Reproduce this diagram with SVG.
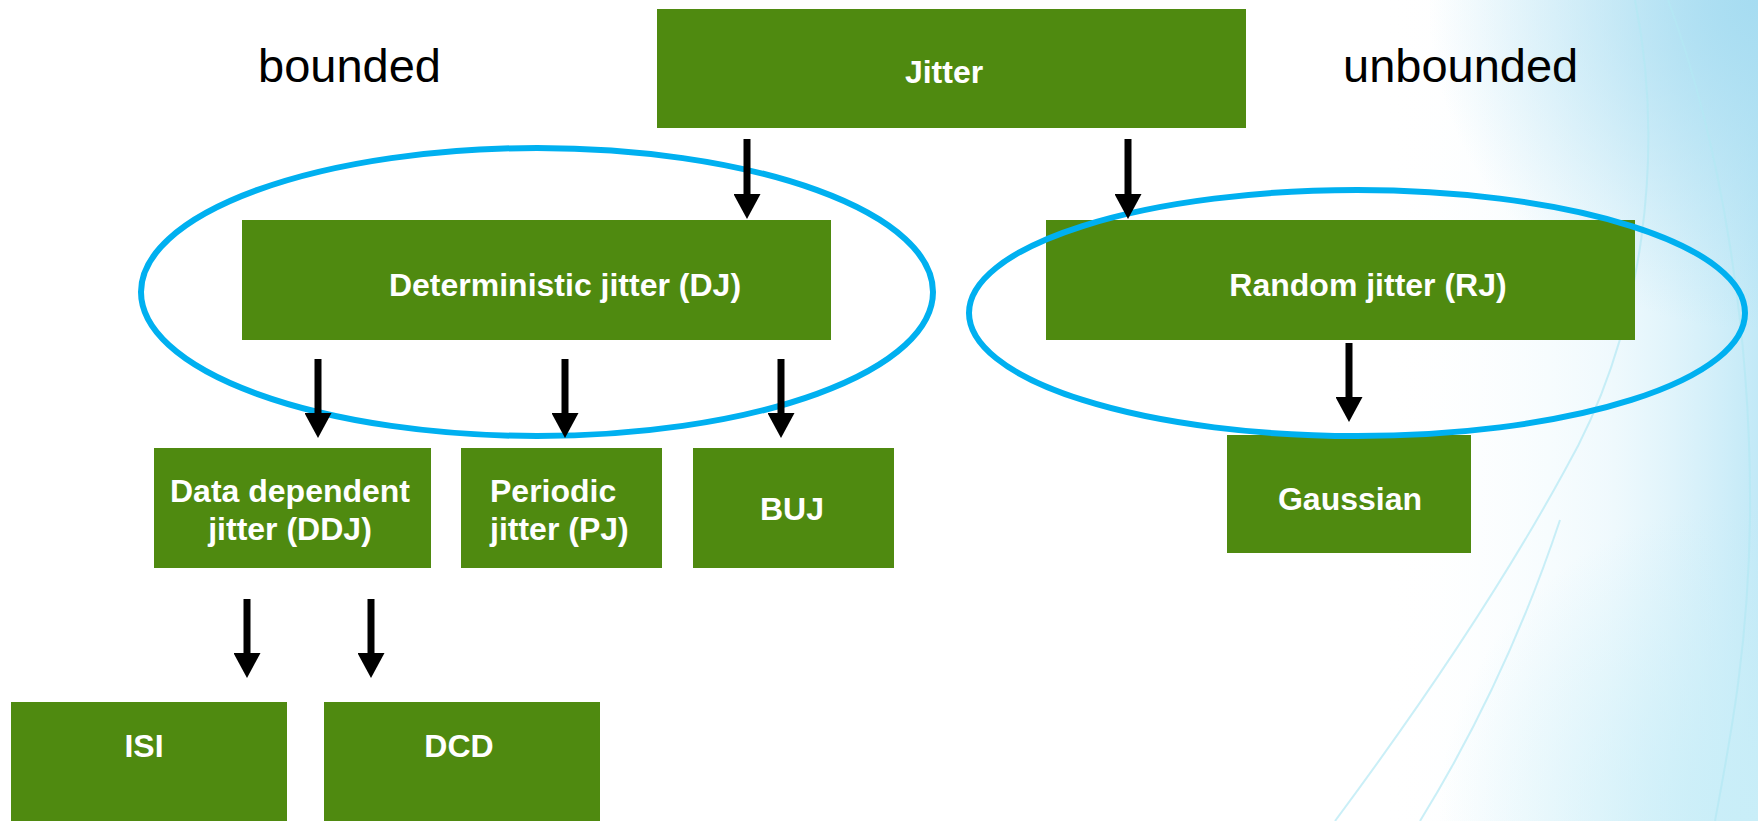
<svg xmlns="http://www.w3.org/2000/svg" width="1758" height="821" viewBox="0 0 1758 821">
  <defs>
    <linearGradient id="bgH" x1="1380" y1="0" x2="1758" y2="0" gradientUnits="userSpaceOnUse">
      <stop offset="0" stop-color="#ffffff" stop-opacity="0"/>
      <stop offset="0.6" stop-color="#e6f6fc" stop-opacity="0.6"/>
      <stop offset="1" stop-color="#c2e9f7"/>
    </linearGradient>
    <radialGradient id="bgTR" cx="1758" cy="0" r="330" gradientUnits="userSpaceOnUse">
      <stop offset="0" stop-color="#a6dcf1"/>
      <stop offset="1" stop-color="#a6dcf1" stop-opacity="0"/>
    </radialGradient>
    <radialGradient id="bgBR" cx="1758" cy="821" r="320" gradientUnits="userSpaceOnUse">
      <stop offset="0" stop-color="#c9eef8"/>
      <stop offset="1" stop-color="#c9eef8" stop-opacity="0"/>
    </radialGradient>
    <marker id="ah" viewBox="0 0 25 27" refX="0" refY="13.5" markerWidth="25" markerHeight="27" markerUnits="userSpaceOnUse" orient="auto">
      <path d="M0,0 L25,13.5 L0,27 Z" fill="#000"/>
    </marker>
  </defs>
  <style>
    .box { fill: #4f8a10; }
    .lbl { font-family: "Liberation Sans", Arial, sans-serif; font-weight: bold; font-size: 32px; fill: #ffffff; }
    .side { font-family: "Liberation Sans", Arial, sans-serif; font-size: 47px; fill: #000000; }
    .ring { fill: none; stroke: #00b0f0; stroke-width: 6; }
    .conn { stroke: #000; stroke-width: 7; fill: none; }
    .arc { fill: none; stroke: #b4e8f4; stroke-width: 2; opacity: 0.7; }
  </style>

  <rect width="1758" height="821" fill="#ffffff"/>
  <g id="background">
    <rect x="1380" y="0" width="378" height="821" fill="url(#bgH)"/>
    <rect x="1400" y="0" width="358" height="360" fill="url(#bgTR)"/>
    <rect x="1400" y="480" width="358" height="341" fill="url(#bgBR)"/>
    <path class="arc" d="M1635,0 C1665,150 1645,330 1565,470 C1505,580 1425,700 1335,821"/>
    <path class="arc" d="M1668,0 C1720,140 1752,330 1750,520 C1748,650 1730,740 1715,821"/>
    <path class="arc" d="M1560,520 C1520,640 1470,740 1420,821" opacity="0.4"/>
  </g>

  <text class="side" x="258" y="82">bounded</text>
  <text class="side" x="1343" y="82">unbounded</text>

  <g id="node-jitter">
    <rect class="box" x="657" y="9" width="589" height="119"/>
    <text class="lbl" x="944" y="83" text-anchor="middle">Jitter</text>
  </g>
  <g id="node-dj">
    <rect class="box" x="242" y="220" width="589" height="120"/>
    <text class="lbl" x="565" y="296" text-anchor="middle">Deterministic jitter (DJ)</text>
  </g>
  <g id="node-rj">
    <rect class="box" x="1046" y="220" width="589" height="120"/>
    <text class="lbl" x="1368" y="296" text-anchor="middle">Random jitter (RJ)</text>
  </g>
  <g id="node-ddj">
    <rect class="box" x="154" y="448" width="277" height="120"/>
    <text class="lbl" x="290" y="502" text-anchor="middle">Data dependent</text>
    <text class="lbl" x="290" y="540" text-anchor="middle">jitter (DDJ)</text>
  </g>
  <g id="node-pj">
    <rect class="box" x="461" y="448" width="201" height="120"/>
    <text class="lbl" x="490" y="502">Periodic</text>
    <text class="lbl" x="490" y="540">jitter (PJ)</text>
  </g>
  <g id="node-buj">
    <rect class="box" x="693" y="448" width="201" height="120"/>
    <text class="lbl" x="792" y="520" text-anchor="middle">BUJ</text>
  </g>
  <g id="node-gaussian">
    <rect class="box" x="1227" y="435" width="244" height="118"/>
    <text class="lbl" x="1350" y="510" text-anchor="middle">Gaussian</text>
  </g>
  <g id="node-isi">
    <rect class="box" x="11" y="702" width="276" height="130"/>
    <text class="lbl" x="144" y="757" text-anchor="middle">ISI</text>
  </g>
  <g id="node-dcd">
    <rect class="box" x="324" y="702" width="276" height="130"/>
    <text class="lbl" x="459" y="757" text-anchor="middle">DCD</text>
  </g>

  <g id="groups">
    <ellipse class="ring" cx="537" cy="292" rx="396" ry="144"/>
    <ellipse class="ring" cx="1357" cy="313" rx="388" ry="123"/>
  </g>

  <g id="connectors">
    <line class="conn" x1="747" y1="139" x2="747" y2="194" marker-end="url(#ah)"/>
    <line class="conn" x1="1128" y1="139" x2="1128" y2="194" marker-end="url(#ah)"/>
    <line class="conn" x1="318" y1="359" x2="318" y2="413" marker-end="url(#ah)"/>
    <line class="conn" x1="565" y1="359" x2="565" y2="413" marker-end="url(#ah)"/>
    <line class="conn" x1="781" y1="359" x2="781" y2="413" marker-end="url(#ah)"/>
    <line class="conn" x1="1349" y1="343" x2="1349" y2="397" marker-end="url(#ah)"/>
    <line class="conn" x1="247" y1="599" x2="247" y2="653" marker-end="url(#ah)"/>
    <line class="conn" x1="371" y1="599" x2="371" y2="653" marker-end="url(#ah)"/>
  </g>
</svg>
